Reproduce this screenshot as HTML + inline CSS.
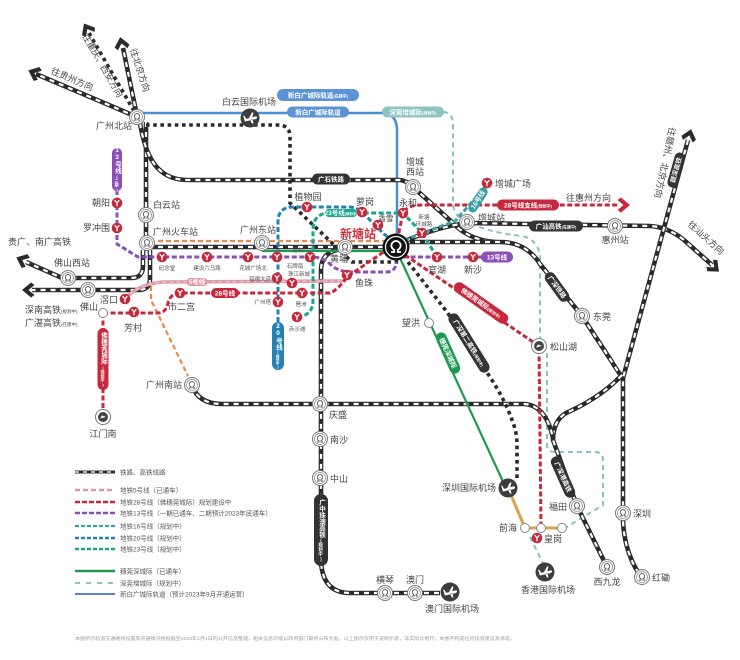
<!DOCTYPE html>
<html><head><meta charset="utf-8">
<style>
html,body{margin:0;padding:0;background:#fff;}
svg{display:block;}
text{font-family:"Liberation Sans","Noto Sans CJK SC",sans-serif;}
.rb{fill:none;stroke:#2a2a2a;stroke-width:4.6;}
.rw{fill:none;stroke:#fff;stroke-width:2.2;stroke-dasharray:5 5;}
.dt{fill:none;stroke:#2a2a2a;stroke-width:3.6;stroke-dasharray:3.6 3.6;}
.m{fill:none;stroke-width:3;stroke-dasharray:5 2.5;}
.l{font-size:9px;fill:#444;}
.s{font-size:5.5px;fill:#555;}
.pt{font-size:6.5px;fill:#fff;font-weight:bold;}
.lg{font-size:6.5px;fill:#555;}
.v{writing-mode:vertical-rl;text-orientation:upright;}
</style></head><body>
<svg width="740" height="660" viewBox="0 0 740 660" xmlns="http://www.w3.org/2000/svg">
<defs>
<g id="rs"><circle r="7.5" fill="#fff" stroke="#777" stroke-width="1"/><circle r="5.5" fill="none" stroke="#888" stroke-width="0.7"/><path d="M-3,3 H-1 V1.8 A2.7,2.7 0 1 1 1,1.8 V3 H3" fill="none" stroke="#555" stroke-width="0.9"/></g>
<g id="rd"><circle r="7.5" fill="#fff" stroke="#777" stroke-width="1"/><circle r="5" fill="#444"/><path d="M-3,1.5 L3,0 L-1,-1.5Z" fill="#fff"/></g>
<g id="ap"><circle r="9.5" fill="#3d3d3d"/><path d="M-6,1.5 L5,-1.5 Q7.5,-2 7,-0.2 Q6.8,0.8 5,1.2 L-5,3.5 Z M-1,0 L2,-5.5 L3.5,-5.5 L2.2,-0.6 Z M0,2 L2,5.5 L3.5,5.5 L2.5,1.2Z M-5.5,1.8 L-7,-2.2 L-5.8,-2.2 L-3.5,1 Z" fill="#fff"/></g>
<g id="ym"><circle r="5.3" fill="#c42a3b"/><path d="M-2.3,-2.8 L0,0 L2.3,-2.8 M0,0 V3.2" stroke="#fff" stroke-width="1.3" fill="none"/></g>
<g id="wc"><circle r="4.5" fill="#fff" stroke="#888" stroke-width="1"/></g>
<path id="chev" d="M4,0 L-5,-7.5 L-8.5,-5 L-2.5,0 L-8.5,5 L-5,7.5 Z"/>

<path id="R1" d="M137,117 L36,74"/>
<path id="R2" d="M137,116 L123,48"/>
<path id="R3" d="M146,122 L146,250"/>
<path id="R4" d="M140,123 Q146,160 162,172 Q172,180 188,180 L400,180 Q408,181 413,187 L452,222 Q468,240 495,242"/>
<path id="R5" d="M405,242 L500,242 Q526,242 540,264 L582,316 L612,362 Q618,372 623,378"/>
<path id="R6" d="M405,241 Q440,226 468,223 L650,226 Q668,227 684,240 L712,265"/>
<path id="R7" d="M688,140 L623,378 L623,520 Q624,552 641,577"/>
<path id="R8" d="M622,375 Q600,398 566,413 Q553,421 553,440 L577,506 L607,567"/>
<path id="R9" d="M192,385 Q198,404 222,404 L525,404 Q546,406 553,438"/>
<path id="R10" d="M345,249 Q321,250 321,270 L321,562 Q323,593 350,593 L440,593"/>
<path id="R11" d="M148,247 L395,247"/>
<path id="R12" d="M143,250 L143,266 Q143,278 131,278 L62,278 L26,262"/>
<path id="R13" d="M150,250 L150,279 Q150,290 138,290 L32,290"/>
</defs>

<rect width="740" height="660" fill="#fff"/>

<!-- light teal 深莞增城际 -->
<g fill="none" stroke="#86c2c2" stroke-width="2" stroke-dasharray="5 4">
<path d="M443,112 Q453,112 453,125 L453,205 Q455,218 468,222 Q490,233 522,236 Q540,240 540,260 L540,340"/>
<path d="M547,353 L547,445 Q547,452 555,452 L595,452 Q603,452 603,460 L603,505 L565,528"/>
<path d="M530,537 L545,567"/>
</g>

<!-- orange dashed -->
<g fill="none" stroke="#e8884a" stroke-width="2.2" stroke-dasharray="5 3">
<path d="M158,241 L385,241"/>
<path d="M151,254 L151,300 L188,376"/>
</g>

<!-- blue 新白广 -->
<path d="M143,113 L380,113 Q397,113 397,130 L397,236" fill="none" stroke="#4c8fd0" stroke-width="2.5"/>

<!-- rails -->
<g>
<use href="#R1" class="rb"/><use href="#R1" class="rw"/>
<use href="#R2" class="rb"/><use href="#R2" class="rw"/>
<use href="#R3" class="rb"/><use href="#R3" class="rw"/>
<use href="#R4" class="rb"/><use href="#R4" class="rw"/>
<use href="#R5" class="rb"/><use href="#R5" class="rw"/>
<use href="#R6" class="rb"/><use href="#R6" class="rw"/>
<use href="#R7" class="rb"/><use href="#R7" class="rw"/>
<use href="#R8" class="rb"/><use href="#R8" class="rw"/>
<use href="#R9" class="rb"/><use href="#R9" class="rw"/>
<use href="#R10" class="rb"/><use href="#R10" class="rw"/>
<use href="#R11" class="rb"/><use href="#R11" class="rw"/>
<use href="#R12" class="rb"/><use href="#R12" class="rw"/>
<use href="#R13" class="rb"/><use href="#R13" class="rw"/>
</g>

<!-- dotted black -->
<path class="dt" d="M134,111 L89,33"/>
<path class="dt" d="M146,125 L278,125 Q290,125 290,137 L290,203 L352,262 L400,262"/>
<path class="dt" d="M408,262 L447,312 L490,377 Q505,400 512,420 Q517,432 517,445 L517,480"/>

<!-- arrows -->
<g fill="#2a2a2a">
<use href="#chev" transform="translate(32,72) rotate(203)"/>
<use href="#chev" transform="translate(121,41) rotate(258)"/>
<use href="#chev" transform="translate(86,27) rotate(240)"/>
<use href="#chev" transform="translate(20,259) rotate(204)"/>
<use href="#chev" transform="translate(26,290) rotate(180)"/>
<use href="#chev" transform="translate(716,269) rotate(42)"/>
<use href="#chev" transform="translate(690,133) rotate(-75)"/>
</g>
<use href="#chev" fill="#c8283c" transform="translate(626,205)"/>

<!-- green 穗莞深 -->
<path d="M262,251 L395,251" fill="none" stroke="#1e9a50" stroke-width="2.2"/>
<path d="M400,258 L505,486" fill="none" stroke="#1e9a50" stroke-width="2.2"/>
<!-- orange solid -->
<path d="M508,488 L525,528 L562,528" fill="none" stroke="#d9a04e" stroke-width="3"/>

<!-- metro lines -->
<path d="M125,299 Q138,284 163,282 L343,281" fill="none" stroke="#dc98a6" stroke-width="3.6"/>
<path d="M125,299 Q138,284 163,282 L343,281" fill="none" stroke="#f3d3da" stroke-width="1" stroke-dasharray="4 3"/>
<path class="m" stroke="#8c4fb5" d="M117,190 L117,244 L138,257 L312,257 Q322,257 330,264 Q338,272 352,272 L386,272 Q396,272 396,262"/>
<path class="m" stroke="#8c4fb5" d="M403,257 L482,257"/>
<path class="m" stroke="#2680b2" d="M278,322 L278,222 Q278,207 293,207 L350,207 Q360,208 366,216 L384,234 L391,240"/>
<path class="m" stroke="#17a88f" d="M297,317 Q313,316 313,300 L313,230 Q313,213 330,213 L403,213 L422,233 L437,257"/>
<path class="m" stroke="#3a9fa8" d="M404,240 L455,221 L487,185"/>
<path class="m" stroke="#c8283c" d="M103,313 L158,313 Q166,313 168,303 Q170,293 182,293 L330,293 Q338,290 347,277 L385,251 Q396,244 399,232 L403,213 Q407,205 422,205 L618,205"/>
<path class="m" stroke="#c8283c" d="M405,255 L539,346 L541,528"/>
<path class="m" stroke="#c8283c" d="M103,313 L103,415"/>

<!-- pills -->
<g transform="translate(318,95)"><rect x="-41" y="-6" width="82" height="12" rx="6" fill="#5b94d6"/><text class="pt" text-anchor="middle" y="2.3">新白广城际轨道<tspan font-size="4">(在建中)</tspan></text></g>
<g transform="translate(318,112)"><rect x="-31" y="-5.5" width="62" height="11" rx="5.5" fill="#5b94d6"/><text class="pt" text-anchor="middle" y="2.3">新白广城际轨道</text></g>
<g transform="translate(413,112)"><rect x="-31" y="-5.5" width="62" height="11" rx="5.5" fill="#8cc3c3"/><text class="pt" text-anchor="middle" y="2.3">深莞增城际<tspan font-size="4">(规划中)</tspan></text></g>
<g transform="translate(331,179)"><rect x="-19" y="-5.5" width="38" height="11" rx="5.5" fill="#333"/><text class="pt" text-anchor="middle" y="2.3">广石铁路</text></g>
<g transform="translate(528,205)"><rect x="-31" y="-5.5" width="62" height="11" rx="5.5" fill="#c8283c"/><text class="pt" text-anchor="middle" y="2.3">28号线支线<tspan font-size="4">(规划中)</tspan></text></g>
<g transform="translate(556,226)"><rect x="-27" y="-5.5" width="54" height="11" rx="5.5" fill="#333"/><text class="pt" text-anchor="middle" y="2.3">广汕高铁<tspan font-size="4">(在建中)</tspan></text></g>
<g transform="translate(478,200) rotate(-57)"><rect x="-14" y="-4.5" width="28" height="9" rx="4.5" fill="#3a9fa8"/><text class="pt" font-size="5.5" text-anchor="middle" y="2">16号线</text></g>
<g transform="translate(676,170) rotate(-74)"><rect x="-18" y="-5" width="36" height="10" rx="5" fill="#333"/><text class="pt" text-anchor="middle" y="2.3">赣深高铁</text></g>
<g transform="translate(497,257)"><rect x="-16" y="-5.5" width="32" height="11" rx="5.5" fill="#8c4fb5"/><text class="pt" text-anchor="middle" y="2.3">13号线</text></g>
<g transform="translate(341,213)"><rect x="-16" y="-4" width="32" height="8" rx="4" fill="#17a88f"/><text class="pt" font-size="5" text-anchor="middle" y="1.8">23号线<tspan font-size="3.5">(规划中)</tspan></text></g>
<g transform="translate(225,293)"><rect x="-14" y="-5" width="28" height="10" rx="5" fill="#c8283c"/><text class="pt" text-anchor="middle" y="2.3">28号线</text></g>
<g transform="translate(197,282)"><rect x="-10.5" y="-4" width="21" height="8" rx="4" fill="#dc98a6"/><text class="pt" font-size="5" text-anchor="middle" y="1.8">5号线</text></g>
<g transform="translate(481,303) rotate(35)"><rect x="-32" y="-5.5" width="64" height="11" rx="5.5" fill="#c8283c"/><text class="pt" text-anchor="middle" y="2.3">佛穗莞城际<tspan font-size="4">(规划中)</tspan></text></g>
<g transform="translate(557,287) rotate(54)"><rect x="-17" y="-5.5" width="34" height="11" rx="5.5" fill="#333"/><text class="pt" text-anchor="middle" y="2.3">广深铁路</text></g>
<g transform="translate(469,343) rotate(58)"><rect x="-34" y="-5.5" width="68" height="11" rx="5.5" fill="#333"/><text class="pt" text-anchor="middle" y="2.3">广深第二高铁<tspan font-size="4">(规划中)</tspan></text></g>
<g transform="translate(448,353) rotate(66)"><rect x="-22" y="-5.5" width="44" height="11" rx="5.5" fill="#1e9a50"/><text class="pt" text-anchor="middle" y="2.3">穗莞深城际</text></g>
<g transform="translate(563,477) rotate(66)"><rect x="-22" y="-5.5" width="44" height="11" rx="5.5" fill="#333"/><text class="pt" text-anchor="middle" y="2.3">广深港高铁</text></g>

<rect x="272" y="322" width="12" height="48" rx="6" fill="#2680b2"/>
<text class="pt v" x="278" y="346" text-anchor="middle" font-size="6.5">20号线<tspan font-size="3.6">(规划中)</tspan></text>
<rect x="112" y="148" width="10" height="43" rx="5" fill="#8c4fb5"/>
<text class="pt v" x="117" y="169.5" text-anchor="middle" font-size="5.5">13号线<tspan font-size="4">(三期)</tspan></text>
<rect x="97.5" y="328" width="11" height="62" rx="5.5" fill="#c8283c"/>
<text class="pt v" x="103" y="359" text-anchor="middle" font-size="7">佛穗莞城际<tspan font-size="4">(规划中)</tspan></text>
<rect x="314" y="494" width="14" height="72" rx="7" fill="#333"/>
<text class="pt v" x="321" y="530" text-anchor="middle" font-size="7.5">广中珠澳高铁<tspan font-size="4.5">(规划中)</tspan></text>

<!-- rail stations -->
<g>
<use href="#rs" x="137" y="117"/><use href="#rs" x="146" y="215"/><use href="#rs" x="147" y="243"/>
<use href="#rs" x="262" y="243"/><use href="#rs" x="345" y="247"/><use href="#rs" x="413" y="187"/>
<use href="#rs" x="467" y="222"/><use href="#rs" x="615" y="226"/><use href="#rs" x="582" y="316"/>
<use href="#rs" x="68" y="278"/><use href="#rs" x="88" y="290"/><use href="#rs" x="192" y="385"/>
<use href="#rs" x="320" y="404"/><use href="#rs" x="320" y="439"/><use href="#rs" x="320" y="478"/>
<use href="#rs" x="385" y="593"/><use href="#rs" x="415" y="593"/><use href="#rs" x="577" y="506"/>
<use href="#rs" x="607" y="567"/><use href="#rs" x="623" y="513"/><use href="#rs" x="642" y="577"/>
<use href="#rd" x="103" y="417"/><use href="#rd" x="539" y="346"/>
</g>
<!-- airports -->
<use href="#ap" x="250" y="118"/><use href="#ap" x="508" y="488"/><use href="#ap" x="545" y="572"/><use href="#ap" x="450" y="592"/>
<!-- white circles -->
<use href="#wc" x="103" y="313"/><use href="#wc" x="429" y="323"/><use href="#wc" x="525" y="528"/><use href="#wc" x="541" y="528"/><use href="#wc" x="562" y="528"/>
<!-- metro Y -->
<g>
<use href="#ym" x="117" y="203"/><use href="#ym" x="117" y="228"/><use href="#ym" x="162" y="257"/>
<use href="#ym" x="207" y="257"/><use href="#ym" x="248" y="257"/><use href="#ym" x="277" y="257"/>
<use href="#ym" x="310" y="257"/><use href="#ym" x="125" y="299"/><use href="#ym" x="134" y="312"/>
<use href="#ym" x="180" y="293"/><use href="#ym" x="277" y="278"/><use href="#ym" x="292" y="283"/>
<use href="#ym" x="278" y="302"/><use href="#ym" x="302" y="293"/><use href="#ym" x="297" y="317"/>
<use href="#ym" x="347" y="275"/><use href="#ym" x="307" y="207"/><use href="#ym" x="362" y="212"/>
<use href="#ym" x="378" y="225"/><use href="#ym" x="403" y="213"/><use href="#ym" x="422" y="233"/>
<use href="#ym" x="437" y="257"/><use href="#ym" x="473" y="257"/><use href="#ym" x="487" y="183"/>
<use href="#ym" x="537" y="538"/>
</g>
<!-- 新塘 hub -->
<g transform="translate(396,247)"><circle r="13.5" fill="#111"/><circle r="10.5" fill="none" stroke="#fff" stroke-width="1.2"/><path d="M-5,5 H-1.8 V2.8 A4.6,4.6 0 1 1 1.8,2.8 V5 H5" fill="none" stroke="#fff" stroke-width="1.8"/></g>

<!-- direction labels -->
<text class="l" text-anchor="middle" transform="translate(71,82) rotate(23)">往贵州方向</text>
<text class="l" text-anchor="middle" transform="translate(100,67) rotate(60)">往重庆、西安方向</text>
<text class="l" text-anchor="middle" transform="translate(137,71) rotate(72)">往北京方向</text>
<text class="l" text-anchor="middle" transform="translate(662,162) rotate(102)">往赣州、北京方向</text>
<text class="l" text-anchor="middle" font-size="8.5" transform="translate(704,240) rotate(42)">往汕头方向</text>
<text class="l" x="566" y="201">往惠州方向</text>

<!-- station labels -->
<g class="l">
<text x="132" y="129" text-anchor="end">广州北站</text>
<text x="249" y="105" text-anchor="middle">白云国际机场</text>
<text x="153" y="208">白云站</text>
<text x="153" y="235">广州火车站</text>
<text x="258" y="233" text-anchor="middle">广州东站</text>
<text x="415" y="165" text-anchor="middle">增城</text>
<text x="415" y="175" text-anchor="middle">西站</text>
<text x="478" y="221">增城站</text>
<text x="615" y="243" text-anchor="middle">惠州站</text>
<text x="593" y="320">东莞</text>
<text x="550" y="350">松山湖</text>
<text x="420" y="326" text-anchor="end">望洪</text>
<text x="110" y="206" text-anchor="end">朝阳</text>
<text x="110" y="231" text-anchor="end">罗冲围</text>
<text x="8" y="245">贵广、南广高铁</text>
<text x="72" y="266" text-anchor="middle">佛山西站</text>
<text x="25" y="313">深南高铁<tspan font-size="4.5">(规划中)</tspan></text>
<text x="25" y="326">广湛高铁<tspan font-size="4.5">(在建中)</tspan></text>
<text x="98" y="310" text-anchor="end">佛山</text>
<text x="118" y="303" text-anchor="end">滘口</text>
<text x="133" y="331" text-anchor="middle">芳村</text>
<text x="168" y="310">市二宫</text>
<text x="182" y="388" text-anchor="end">广州南站</text>
<text x="103" y="437" text-anchor="middle">江门南</text>
<text x="329" y="418">庆盛</text>
<text x="330" y="443">南沙</text>
<text x="330" y="482">中山</text>
<text x="385" y="583" text-anchor="middle">横琴</text>
<text x="415" y="583" text-anchor="middle">澳门</text>
<text x="452" y="612" text-anchor="middle">澳门国际机场</text>
<text x="496" y="491" text-anchor="end">深圳国际机场</text>
<text x="517" y="531" text-anchor="end">前海</text>
<text x="544" y="542">皇岗</text>
<text x="548" y="593" text-anchor="middle">香港国际机场</text>
<text x="567" y="510" text-anchor="end">福田</text>
<text x="607" y="585" text-anchor="middle">西九龙</text>
<text x="633" y="517">深圳</text>
<text x="652" y="581">红磡</text>
<text x="308" y="200" text-anchor="middle">植物园</text>
<text x="365" y="205" text-anchor="middle">萝岗</text>
<text x="408" y="206" text-anchor="middle">永和</text>
<text x="386" y="221" text-anchor="middle" font-size="7.5">香雪</text>
<text x="330" y="262">黄埔</text>
<text x="355" y="286">鱼珠</text>
<text x="437" y="273" text-anchor="middle">官湖</text>
<text x="473" y="273" text-anchor="middle">新沙</text>
<text x="495" y="187">增城广场</text>
</g>
<text x="358" y="238" text-anchor="middle" font-size="12" font-weight="bold" fill="#d0303f">新塘站</text>

<!-- small metro labels -->
<g class="s">
<text x="167" y="270" text-anchor="middle">纪念堂</text>
<text x="207" y="270" text-anchor="middle">建设六马路</text>
<text x="253" y="270" text-anchor="middle">花城广场北</text>
<text x="295" y="268" text-anchor="middle">石牌南</text>
<text x="298" y="252" text-anchor="middle">猎村</text>
<text x="271" y="281" text-anchor="end">猎德大道</text>
<text x="299" y="276" text-anchor="middle">珠江新城</text>
<text x="271" y="304" text-anchor="end">广州塔</text>
<text x="301" y="306" text-anchor="middle">琶洲</text>
<text x="297" y="331" text-anchor="middle">赤沙滩</text>
<text x="424" y="219" text-anchor="middle">新塘</text>
<text x="424" y="226" text-anchor="middle">环城路</text>
</g>

<!-- legend -->
<g>
<path d="M75,472 L115,472" stroke="#2a2a2a" stroke-width="3" fill="none"/>
<path d="M75,472 L115,472" stroke="#fff" stroke-width="1.3" stroke-dasharray="4 4" fill="none"/>
<path d="M75,490 L115,490" stroke="#dc98a6" stroke-width="2.5" stroke-dasharray="5 3" fill="none"/>
<path d="M75,502 L115,502" stroke="#c8283c" stroke-width="2.5" stroke-dasharray="5 2" fill="none"/>
<path d="M75,513 L115,513" stroke="#8c4fb5" stroke-width="2.5" stroke-dasharray="5 2" fill="none"/>
<path d="M75,526 L115,526" stroke="#3a9fa8" stroke-width="2.2" stroke-dasharray="4 2" fill="none"/>
<path d="M75,538 L115,538" stroke="#2680b2" stroke-width="2.5" stroke-dasharray="4 2" fill="none"/>
<path d="M75,549 L115,549" stroke="#17a88f" stroke-width="2.5" stroke-dasharray="4 2" fill="none"/>
<path d="M75,571 L115,571" stroke="#1e9a50" stroke-width="2.5" fill="none"/>
<path d="M75,583 L115,583" stroke="#8cc3c3" stroke-width="2" stroke-dasharray="5 6" fill="none"/>
<path d="M75,594 L115,594" stroke="#5a7ec8" stroke-width="2" fill="none"/>
</g>
<g class="lg">
<text x="120" y="474.5">铁路、高铁线路</text>
<text x="120" y="492.5">地铁5号线（已通车）</text>
<text x="120" y="504.5">地铁28号线（佛穗莞城际）规划建设中</text>
<text x="120" y="515.5">地铁13号线（一期已通车、二期预计2023年底通车）</text>
<text x="120" y="528.5">地铁16号线（规划中）</text>
<text x="120" y="540.5">地铁20号线（规划中）</text>
<text x="120" y="551.5">地铁23号线（规划中）</text>
<text x="120" y="573.5">穗莞深城际（已通车）</text>
<text x="120" y="585.5">深莞增城际（规划中）</text>
<text x="120" y="596.5">新白广城际轨道（预计2023年9月开通运营）</text>
</g>

<!-- footer -->
<text x="75" y="640" font-size="4.5" fill="#9a9a9a" textLength="440" lengthAdjust="spacingAndGlyphs">本图所示轨道交通路线设置及开通情况根据截至2023年1月1日的公开信息整理，相关信息可能以政府部门最终公布为准，以上图示仅用于说明示意，非实际比例尺，本图不构成任何投资建议及承诺。</text>
</svg>
</body></html>
